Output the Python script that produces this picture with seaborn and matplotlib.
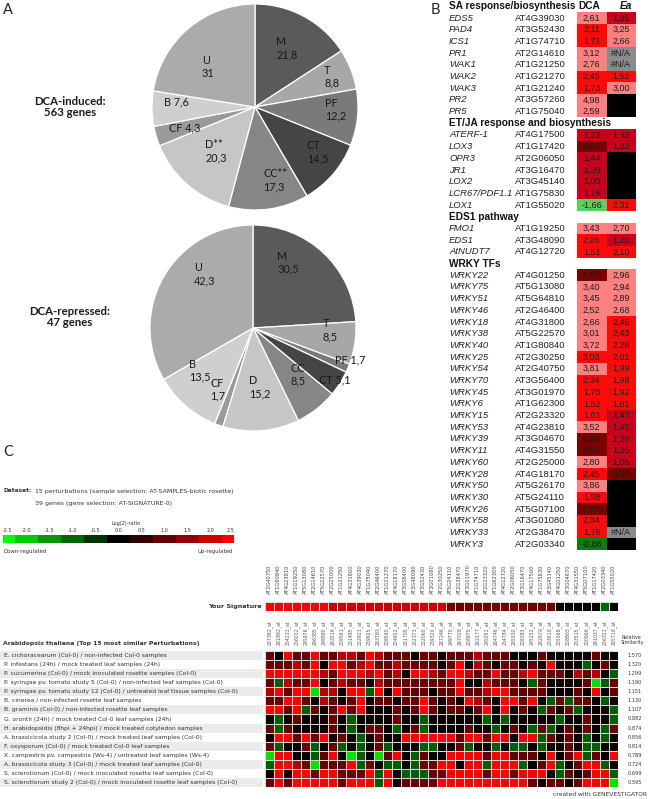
import numpy as np
import seaborn as sns
import matplotlib.pyplot as plt
from matplotlib.colors import ListedColormap, LinearSegmentedColormap
from matplotlib.transforms import blended_transform_factory as blend

W, H = 652, 799

# ---------- A: functional categories of DCA-responsive genes (%) ----------
induced_names = ['M', 'T', 'PF', 'CT', 'CC**', 'D**', 'CF', 'B', 'U']
induced_vals = [21.8, 8.8, 12.2, 14.5, 17.3, 20.3, 4.3, 7.6, 31]
repressed_names = ['M', 'T', 'PF', 'CT', 'CC', 'D', 'CF', 'B', 'U']
repressed_vals = [30.5, 8.5, 1.7, 5.1, 8.5, 15.2, 1.7, 13.5, 42.3]

# ---------- B: fold changes (None = no data, 'NA' = #N/A) ----------
sa_genes = ['EDS5', 'PAD4', 'ICS1', 'PR1', 'WAK1', 'WAK2', 'WAK3', 'PR2', 'PR5']
sa_ids = ['AT4G39030', 'AT3G52430', 'AT1G74710', 'AT2G14610', 'AT1G21250',
          'AT1G21270', 'AT1G21240', 'AT3G57260', 'AT1G75040']
sa_dca = [2.61, 2.11, 1.71, 3.12, 2.76, 2.45, 1.73, 4.98, 2.59]
sa_ea = [1.31, 3.25, 2.66, 'NA', 'NA', 1.52, 3.00, None, None]

etja_genes = ['ATERF-1', 'LOX3', 'OPR3', 'JR1', 'LOX2', 'LCR67/PDF1.1', 'LOX1']
etja_ids = ['AT4G17500', 'AT1G17420', 'AT2G06050', 'AT3G16470', 'AT3G45140',
            'AT1G75830', 'AT1G55020']
etja_dca = [1.22, 0.83, 1.44, 1.39, 1.00, 1.16, -1.66]
etja_ea = [1.32, 1.32, None, None, None, None, 2.31]

eds1_genes = ['FMO1', 'EDS1', 'AtNUDT7']
eds1_ids = ['AT1G19250', 'AT3G48090', 'AT4G12720']
eds1_dca = [3.43, 2.26, 1.51]
eds1_ea = [2.70, 1.20, 2.10]

wrky_genes = ['WRKY22', 'WRKY75', 'WRKY51', 'WRKY46', 'WRKY18', 'WRKY38', 'WRKY40',
              'WRKY25', 'WRKY54', 'WRKY70', 'WRKY45', 'WRKY6', 'WRKY15', 'WRKY53',
              'WRKY39', 'WRKY11', 'WRKY60', 'WRKY28', 'WRKY50', 'WRKY30', 'WRKY26',
              'WRKY58', 'WRKY33', 'WRKY3']
wrky_ids = ['AT4G01250', 'AT5G13080', 'AT5G64810', 'AT2G46400', 'AT4G31800', 'AT5G22570',
            'AT1G80840', 'AT2G30250', 'AT2G40750', 'AT3G56400', 'AT3G01970', 'AT1G62300',
            'AT2G23320', 'AT4G23810', 'AT3G04670', 'AT4G31550', 'AT2G25000', 'AT4G18170',
            'AT5G26170', 'AT5G24110', 'AT5G07100', 'AT3G01080', 'AT2G38470', 'AT2G03340']
wrky_dca = [0.99, 3.40, 3.45, 2.52, 2.66, 3.01, 3.72, 2.03, 3.81, 2.34, 1.75, 1.52,
            1.61, 3.52, 0.96, 0.94, 2.80, 2.45, 3.86, 1.98, 0.85, 2.04, 1.78, -0.86]
wrky_ea = [2.96, 2.94, 2.89, 2.68, 2.45, 2.43, 2.26, 2.01, 1.99, 1.98, 1.92, 1.81,
           1.47, 1.41, 1.26, 1.25, 1.05, 0.80, None, None, None, None, 'NA', None]

# ---------- C: Genevestigator signature search ----------
sig_genes = ['AT2G40750', 'AT1G80840', 'AT4G23810', 'AT1G19250', 'AT5G13080', 'AT2G14610',
             'AT5G22570', 'AT2G25000', 'AT1G21250', 'AT4G31800', 'AT4G39030', 'AT1G75040',
             'AT2G46400', 'AT1G21270', 'AT4G18170', 'AT3G56400', 'AT3G48090', 'AT3G52430',
             'AT3G01080', 'AT2G30250', 'AT5G24110', 'AT2G38470', 'AT3G01970', 'AT1G74710',
             'AT2G23320', 'AT1G62300', 'AT4G12720', 'AT2G06050', 'AT3G16470', 'AT4G17500',
             'AT1G75830', 'AT3G45140', 'AT4G01250', 'AT3G04670', 'AT4G31550', 'AT5G07100',
             'AT1G17420', 'AT2G03340', 'AT1G55020']
probes = ['257382_at', '261892_at', '254231_at', '256012_at', '245976_at', '266385_at',
          '249890_at', '263516_at', '259561_at', '251485_at', '252921_at', '259925_at',
          '263783_at', '259560_at', '254652_at', '251705_at', '252373_at', '252060_at',
          '259320_at', '267246_at', '249770_at', '267028_at', '258975_at', '262177_at',
          '245051_at', '264746_at', '254784_at', '265530_at', '259383_at', '245252_at',
          '262679_at', '253618_at', '255568_at', '258803_at', '253515_at', '250666_at',
          '261037_at', '256321_at', '265718_at']
signature = [2.6, 2.6, 2.6, 2.6, 2.6, 2.6, 2.6,
             2.0, 2.0, 2.0, 2.0, 2.0, 2.0, 2.0, 2.0, 2.0, 2.0, 2.0, 2.0, 2.0,
             1.1, 1.1, 1.1, 1.1, 1.1, 1.1, 1.1, 1.1, 1.1, 1.1, 1.1, 1.1,
             0.05, 0.05, 0.05, 0.05, 0.05, -1.0, 0.0]
perturbations = [
    'E. cichoracearum (Col-0) / non-infected Col-0 samples',
    'P. infestans (24h) / mock treated leaf samples (24h)',
    'P. cucumerina (Col-0) / mock inoculated rosette samples (Col-0)',
    'P. syringae pv. tomato study 5 (Col-0) / non-infected leaf samples (Col-0)',
    'P. syringae pv. tomato study 12 (Col-0) / untreated leaf tissue samples (Col-0)',
    'B. cinerea / non-infected rosette leaf samples',
    'B. graminis (Col-0) / non-infected rosette leaf samples',
    'G. orontii (24h) / mock treated Col-0 leaf samples (24h)',
    'H. arabidopsidis (8hpi + 24hpi) / mock treated cotyledon samples',
    'A. brassicicola study 2 (Col-0) / mock treated leaf samples (Col-0)',
    'F. oxysporum (Col-0) / mock treated Col-0 leaf samples',
    'X. campestris pv. campestris (Ws-4) / untreated leaf samples (Ws-4)',
    'A. brassicicola study 3 (Col-0) / mock treated leaf samples (Col-0)',
    'S. sclerotiorum (Col-0) / mock inoculated rosette leaf samples (Col-0)',
    'S. sclerotiorum study 2 (Col-0) / mock inoculated rosette leaf samples (Col-0)',
]
similarity = ['1.570', '1.320', '1.299', '1.190', '1.151', '1.130', '1.107', '0.882',
              '0.874', '0.856', '0.814', '0.789', '0.724', '0.699', '0.595']
# colour: R bright red, r red, d dark red, k black, g dark green, G green
perturb_cells = [
    "dkRddRddrr" "dRrdddkddk" "dddrdddkkk" "dkkkkkdkk",
    "dddrdRkRRd" "rRddrddddk" "dRkrdkddkd" "kRkkkgkdk",
    "RRRRRRrdRR" "RrRdrkRRrd" "RRrddRddrR" "dddkrdrkg",
    "dgrddRkdrd" "dkrddddddd" "dRkkrdddkg" "dkkkkdGgd",
    "rRdRRGrrkR" "RgRkRdddkd" "dRddrRRddd" "dkkkdkRkd",
    "ddRRdk" "rdkdRkddkd" "dRdkdkRrdk" "RRdRkgdgdd" "kgk",
    "RRdRgd" "kdRdRkkkdk" "dRdkddkdRk" "Rkdkgdkdgk" "kkg",
    "kgkdkk" "kdkgkkkkdk" "kgkkkkkkgk" "gkkkkkgkkd" "kkg",
    "dgdkkk" "kdkgkddkgk" "dgkkkkdkkg" "kdkgdgkdkd" "kgd",
    "kRRdRd" "RkdkgkdkkR" "RRRRRdRRdR" "RkRRgdkdkg" "kgk",
    "dgkkdg" "kdgkgkdgkk" "kggkkdgkkg" "kggkgkkdkg" "gkk",
    "GRRkkg" "dRkGgkGdRk" "gdkkRRRRdR" "RdddkRkdRg" "dkR",
    "gRRrdG" "dddRgdkggk" "gddRRkRRgR" "RRgkdRgkdR" "Rgk",
    "kRkRRd" "RRdddRgRkg" "ggddRRRRdR" "RdRRRkgdkd" "RRg",
    "dRdRRR" "RRdRRRgRkd" "dddRRRRRRR" "RRRdkddkdR" "RRG",
]
cell_level = {'R': 2.5, 'r': 1.8, 'd': 1.0, 'k': 0.1, 'g': -0.9, 'G': -2.2}
ratio_steps = [-2.5, -2.0, -1.5, -1.0, -0.5, 0.0, 0.5, 1.0, 1.5, 2.0, 2.5]

# ---------- figure ----------
sns.set_theme(style="white")
plt.rcParams['font.family'] = ['Lato', 'DejaVu Sans']

fig = plt.figure(figsize=(W / 100, H / 100), dpi=100)


def px_axes(x0, y0, w, h):
    return fig.add_axes([x0 / W, 1 - (y0 + h) / H, w / W, h / H])


def comma(v, nd=1):
    if nd == 1 and float(v).is_integer():
        return str(int(v))
    return f"{v:.{nd}f}".replace('.', ',')


ov = px_axes(0, 0, W, H)
ov.set_xlim(0, W)
ov.set_ylim(H, 0)
ov.axis('off')

for letter, x, y in [('A', 3, 10), ('B', 431, 10), ('C', 3, 452)]:
    ov.text(x, y, letter, fontsize=10.5, va='center', color='#222222')

# ---------- panel A ----------
pie_colors = ['#5a5a5a', '#a7a7a7', '#7a7a7a', '#454545', '#868686',
              '#c6c6c6', '#9a9a9a', '#cfcfcf', '#ababab']


def draw_pie(cx, cy, r, vals, names, seps, lab_r, lab_dt):
    ax = px_axes(cx - 1.1 * r, cy - 1.1 * r, 2.2 * r, 2.2 * r)
    wedges, _ = ax.pie(vals, colors=pie_colors, startangle=90, counterclock=False,
                       wedgeprops=dict(edgecolor='white', linewidth=0.9))
    ax.set_xlim(-1.1, 1.1)
    ax.set_ylim(-1.1, 1.1)
    for w, name, v, sep, lr, dt in zip(wedges, names, vals, seps, lab_r, lab_dt):
        a = np.deg2rad((w.theta1 + w.theta2) / 2 + dt)
        ax.text(lr * np.cos(a), lr * np.sin(a), f"{name}{sep}{comma(v)}",
                ha='center', va='center', multialignment='left',
                fontsize=7.8, color='#1a1a1a')


draw_pie(255, 107, 103, induced_vals, induced_names,
         ['\n', '\n', '\n', '\n', '\n', '\n', ' ', ' ', '\n'],
         [0.65, 0.8, 0.78, 0.75, 0.74, 0.57, 0.71, 0.76, 0.6],
         [0, 0, 4, 5, 8, 0, 0, -5, 9])
draw_pie(253, 328, 103, repressed_vals, repressed_names,
         ['\n', '\n', ' ', ' ', '\n', '\n', '\n', '\n', '\n'],
         [0.72, 0.75, 0.99, 0.94, 0.63, 0.58, 0.69, 0.66, 0.7],
         [15, 7, 5, 0, 6, 2, -10, -10, -18])

ov.text(70, 107, 'DCA-induced:\n563 genes', ha='center', va='center',
        fontsize=8.2, fontweight='bold', linespacing=1.1, color='#1a1a1a')
ov.text(70, 317, 'DCA-repressed:\n47 genes', ha='center', va='center',
        fontsize=8.2, fontweight='bold', linespacing=1.1, color='#1a1a1a')

# ---------- panel B ----------
table_colors = ['#000000', '#8a8a8a', '#5cd05c', '#0b7d0b',
                '#7c0000', '#c8001c', '#ff0a0a', '#ff8080']


def cell_code(v):
    if v is None:
        return 0
    if v == 'NA':
        return 1
    if v < -1:
        return 2
    if v < 0:
        return 3
    if v < 1:
        return 4
    if v < 1.5:
        return 5
    if v < 2.5:
        return 6
    return 7


def cell_text(v):
    if v is None:
        return ''
    if v == 'NA':
        return '#N/A'
    return comma(v, 2)


sections = [
    ('SA response/biosynthesis', sa_genes, sa_ids, sa_dca, sa_ea),
    ('ET/JA response and biosynthesis', etja_genes, etja_ids, etja_dca, etja_ea),
    ('EDS1 pathway', eds1_genes, eds1_ids, eds1_dca, eds1_ea),
    ('WRKY TFs', wrky_genes, wrky_ids, wrky_dca, wrky_ea),
]
codes, notes, row_labels = [], [], []
for title, genes, ids, dca, ea in sections:
    codes.append([np.nan, np.nan])
    notes.append(['', ''])
    row_labels.append((title, None))
    for g, gid, a, b in zip(genes, ids, dca, ea):
        codes.append([cell_code(a), cell_code(b)])
        notes.append([cell_text(a), cell_text(b)])
        row_labels.append((g, gid))
codes = np.array(codes, dtype=float)
notes = np.array(notes, dtype=object)

axb = px_axes(577, 0.5, 59, 549.5)
sns.heatmap(codes, mask=np.isnan(codes), cmap=ListedColormap(table_colors),
            vmin=-0.5, vmax=7.5, annot=notes, fmt='', cbar=False,
            xticklabels=False, yticklabels=False, ax=axb,
            annot_kws=dict(fontsize=6.5, color='#1c1c1c', family='Liberation Sans'))
trb = blend(ov.transData, axb.transData)
for r, (name, gid) in enumerate(row_labels):
    if gid is None:
        axb.text(449, r + 0.5, name, transform=trb, va='center', fontsize=7.3,
                 fontweight='bold', family='Liberation Sans', color='#111111')
    else:
        axb.text(449, r + 0.5, name, transform=trb, va='center', fontsize=6.8,
                 style='italic', family='Liberation Sans', color='#222222')
        axb.text(515, r + 0.5, gid, transform=trb, va='center', fontsize=6.8,
                 family='Liberation Sans', color='#222222')
axb.text(589.5, 0.5, 'DCA', transform=trb, ha='center', va='center', fontsize=7.3,
         fontweight='bold', family='Liberation Sans', color='#111111')
axb.text(626, 0.5, 'Ea', transform=trb, ha='center', va='center', fontsize=7.3,
         fontweight='bold', style='italic', family='Liberation Sans', color='#111111')

# ---------- panel C ----------
gbr = LinearSegmentedColormap.from_list('gbr', ['#00ff00', '#000000', '#ff0000'])
small = dict(family='DejaVu Sans', color='#333333')

ov.text(3, 491, 'Dataset:', fontsize=4.2, fontweight='bold', va='center', **small)
ov.text(35, 491, '15 perturbations (sample selection: AT-SAMPLES-biotic rosette)',
        fontsize=4.5, va='center', **small)
ov.text(35, 503, '39 genes (gene selection: AT-SIGNATURE-0)', fontsize=4.5,
        va='center', **small)

axc = px_axes(3, 535, 231, 8)
sns.heatmap(np.array([ratio_steps]), cmap=gbr, vmin=-2.5, vmax=2.5, cbar=False,
            xticklabels=False, yticklabels=False, ax=axc)
axc.set_xlim(0.5, len(ratio_steps) - 0.5)
trc = blend(axc.transData, ov.transData)
for i, v in enumerate(ratio_steps):
    # keep the end labels inside the page
    ha = 'left' if i == 0 else ('right' if i == len(ratio_steps) - 1 else 'center')
    axc.text(i + 0.5, 531, f"{v:.1f}", transform=trc, ha=ha, va='center',
             fontsize=3.5, **small)
ov.text(126, 523, 'Log(2)-ratio', ha='center', va='center', fontsize=3.6, **small)
ov.text(4, 551, 'Down-regulated', ha='left', va='center', fontsize=3.9, **small)
ov.text(233, 551, 'Up-regulated', ha='right', va='center', fontsize=3.9, **small)

axs = px_axes(265, 602, 353, 9)
sns.heatmap(np.array([signature]), cmap=gbr, vmin=-2.5, vmax=2.5, cbar=False,
            linewidths=0.5, linecolor='#d9d9d9', xticklabels=False, yticklabels=False,
            ax=axs)
trs = blend(axs.transData, ov.transData)
for j, g in enumerate(sig_genes):
    axs.text(j + 0.5, 594, g, transform=trs, rotation=90, ha='center', va='bottom',
             fontsize=3.7, family='DejaVu Sans', color='#444444')
ov.text(262, 606.5, 'Your Signature', ha='right', va='center', fontsize=4.6,
        fontweight='bold', **small)

axl = px_axes(0, 651, 263, 136)
axl.set_xlim(0, 1)
axl.set_ylim(len(perturbations), 0)
axl.axis('off')
for i in range(0, len(perturbations), 2):
    axl.axhspan(i, i + 1, color='#ebebeb', lw=0)

matrix = np.array([[cell_level[c] for c in row] for row in perturb_cells])
axm = px_axes(265, 651, 353, 136)
sns.heatmap(matrix, cmap=gbr, vmin=-2.5, vmax=2.5, cbar=False,
            linewidths=0.5, linecolor='#d9d9d9', xticklabels=False, yticklabels=False,
            ax=axm)
trm = blend(axm.transData, ov.transData)
for j, p in enumerate(probes):
    axm.text(j + 0.5, 645, p, transform=trm, rotation=90, ha='center', va='bottom',
             fontsize=3.3, family='DejaVu Sans', color='#555555')
trr = blend(ov.transData, axm.transData)
for i, (name, sim) in enumerate(zip(perturbations, similarity)):
    axm.text(4, i + 0.5, name, transform=trr, ha='left', va='center', fontsize=4.3, **small)
    axm.text(635, i + 0.5, sim, transform=trr, ha='center', va='center', fontsize=3.6, **small)
ov.text(3, 643, 'Arabidopsis thaliana (Top 15 most similar Perturbations)', ha='left',
        va='center', fontsize=4.4, fontweight='bold', **small)
ov.text(621, 640, 'Relative\nSimilarity', ha='left', va='center', fontsize=3.5,
        linespacing=1.2, **small)
ov.text(647, 795, 'created with GENEVESTIGATOR', ha='right', va='center',
        fontsize=4.3, **small)

fig.savefig('out.png', dpi=100)
